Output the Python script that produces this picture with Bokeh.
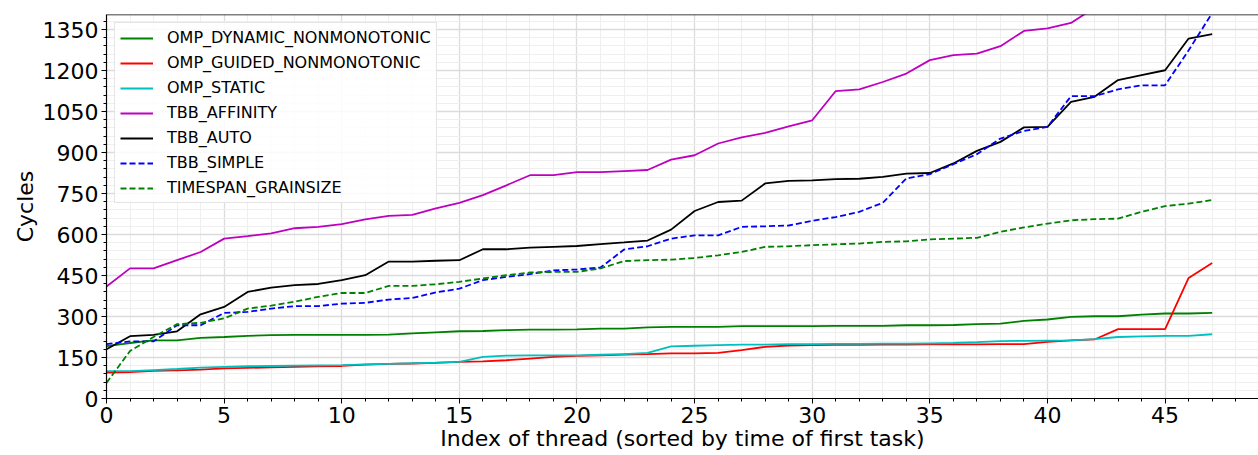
from bokeh.plotting import figure
from bokeh.models import Range1d, SingleIntervalTicker, Legend, LegendItem, Span
from bokeh.embed import file_html
from bokeh.resources import INLINE

thread_index = list(range(48))

omp_dynamic_nonmonotonic = [192, 203, 213, 213, 222, 225, 229, 232, 233, 233, 233, 233, 234, 238, 242, 246,
                            247, 250, 252, 252, 253, 256, 256, 260, 262, 262, 262, 265, 265, 265, 265, 266,
                            266, 266, 268, 268, 269, 272, 274, 284, 289, 299, 301, 301, 307, 311, 311, 313]
omp_guided_nonmonotonic = [95, 97, 101, 103, 106, 110, 112, 114, 116, 118, 119, 124, 127, 128, 130, 134,
                           136, 140, 146, 152, 156, 158, 161, 162, 165, 165, 167, 177, 189, 194, 195, 196,
                           196, 197, 197, 198, 198, 198, 199, 199, 207, 213, 216, 254, 254, 254, 441, 496]
omp_static = [100, 100, 104, 108, 113, 116, 118, 119, 120, 121, 122, 125, 127, 129, 131, 134,
              152, 157, 158, 158, 158, 160, 162, 167, 191, 193, 195, 197, 197, 199, 199, 200,
              200, 201, 201, 202, 203, 206, 210, 211, 212, 213, 217, 225, 227, 229, 229, 235]
tbb_affinity = [410, 476, 476, 506, 536, 585, 594, 604, 623, 628, 638, 655, 668, 672, 696, 716,
                744, 780, 817, 817, 828, 828, 832, 836, 874, 890, 933, 955, 972, 996, 1018, 1125,
                1131, 1158, 1189, 1238, 1256, 1262, 1289, 1345, 1354, 1374, 1430, 1455, 1480, 1505, 1560, 1600]
tbb_auto = [180, 228, 233, 246, 308, 335, 390, 406, 415, 419, 433, 451, 501, 501, 504, 506,
            546, 546, 552, 555, 558, 565, 571, 578, 618, 686, 719, 724, 787, 796, 798, 803,
            804, 811, 823, 825, 860, 906, 939, 992, 994, 1085, 1104, 1165, 1183, 1201, 1317, 1333]
tbb_simple = [199, 209, 209, 268, 268, 313, 317, 329, 338, 338, 347, 350, 362, 368, 388, 402,
              433, 445, 455, 469, 472, 479, 545, 557, 585, 597, 597, 628, 630, 633, 650, 664,
              683, 716, 805, 821, 857, 894, 951, 979, 994, 1106, 1106, 1131, 1146, 1146, 1274, 1410]
timespan_grainsize = [57, 174, 225, 272, 277, 293, 329, 340, 354, 372, 386, 386, 412, 412, 418, 427,
                      439, 451, 461, 463, 463, 476, 503, 506, 508, 514, 524, 536, 555, 557, 561, 564,
                      567, 573, 575, 582, 585, 588, 610, 626, 640, 652, 656, 658, 683, 704, 713, 726]

series = [
    ("OMP_DYNAMIC_NONMONOTONIC", omp_dynamic_nonmonotonic, "#008000", "solid"),
    ("OMP_GUIDED_NONMONOTONIC", omp_guided_nonmonotonic, "#ff0000", "solid"),
    ("OMP_STATIC", omp_static, "#00bfbf", "solid"),
    ("TBB_AFFINITY", tbb_affinity, "#bf00bf", "solid"),
    ("TBB_AUTO", tbb_auto, "#000000", "solid"),
    ("TBB_SIMPLE", tbb_simple, "#0000ff", "6 3"),
    ("TIMESPAN_GRAINSIZE", timespan_grainsize, "#008000", "6 3"),
]

FONT = "DejaVu Sans"

p = figure(width=1258, height=455, output_backend="svg", toolbar_location=None,
           x_range=Range1d(0, 48.97), y_range=Range1d(0, 1405),
           min_border_left=106, min_border_right=0, min_border_top=14, min_border_bottom=57)
p.outline_line_color = None
p.background_fill_color = "white"
p.border_fill_color = "white"

p.xaxis.ticker = SingleIntervalTicker(interval=5, num_minor_ticks=5)
p.yaxis.ticker = SingleIntervalTicker(interval=150, num_minor_ticks=5)

for ax in (p.xaxis, p.yaxis):
    ax.axis_line_color = "black"
    ax.axis_line_width = 1.2
    ax.major_tick_line_color = "black"
    ax.minor_tick_line_color = "black"
    ax.major_tick_in = 0
    ax.major_tick_out = 5
    ax.minor_tick_in = 0
    ax.minor_tick_out = 3
    ax.major_label_text_font = FONT
    ax.major_label_text_font_size = "22px"
    ax.major_label_text_color = "black"
    ax.axis_label_text_font = FONT
    ax.axis_label_text_font_size = "22px"
    ax.axis_label_text_font_style = "normal"
    ax.axis_label_text_color = "black"
    ax.major_label_standoff = 3
    ax.axis_label_standoff = 2

p.xaxis.axis_label = "Index of thread (sorted by time of first task)"
p.yaxis.axis_label = "Cycles"
p.xaxis.axis_label_standoff = 0

p.xgrid.grid_line_color = "#dcdcdc"
p.ygrid.grid_line_color = "#dcdcdc"
p.xgrid.grid_line_width = 1.3
p.ygrid.grid_line_width = 1.3
p.xgrid.minor_grid_line_color = "#efefef"
p.ygrid.minor_grid_line_color = "#efefef"
p.xgrid.minor_grid_line_width = 1
p.ygrid.minor_grid_line_width = 1

items = []
for name, vals, color, dash in series:
    r = p.line(thread_index, vals, line_color=color, line_width=1.8, line_dash=dash)
    items.append(LegendItem(label=name, renderers=[r]))

p.add_layout(Span(location=1405, dimension="width", line_color="black", line_width=1.5))

legend = Legend(items=items, location="top_left", margin=8, padding=5,
                label_text_font=FONT, label_text_font_size="16px", label_text_color="black",
                label_height=18, glyph_height=18, glyph_width=33, label_standoff=14, spacing=6,
                border_line_color="#cccccc", border_line_width=1,
                background_fill_color="white", background_fill_alpha=0.85)
p.add_layout(legend)

open("out.html", "w").write(file_html(p, INLINE))
